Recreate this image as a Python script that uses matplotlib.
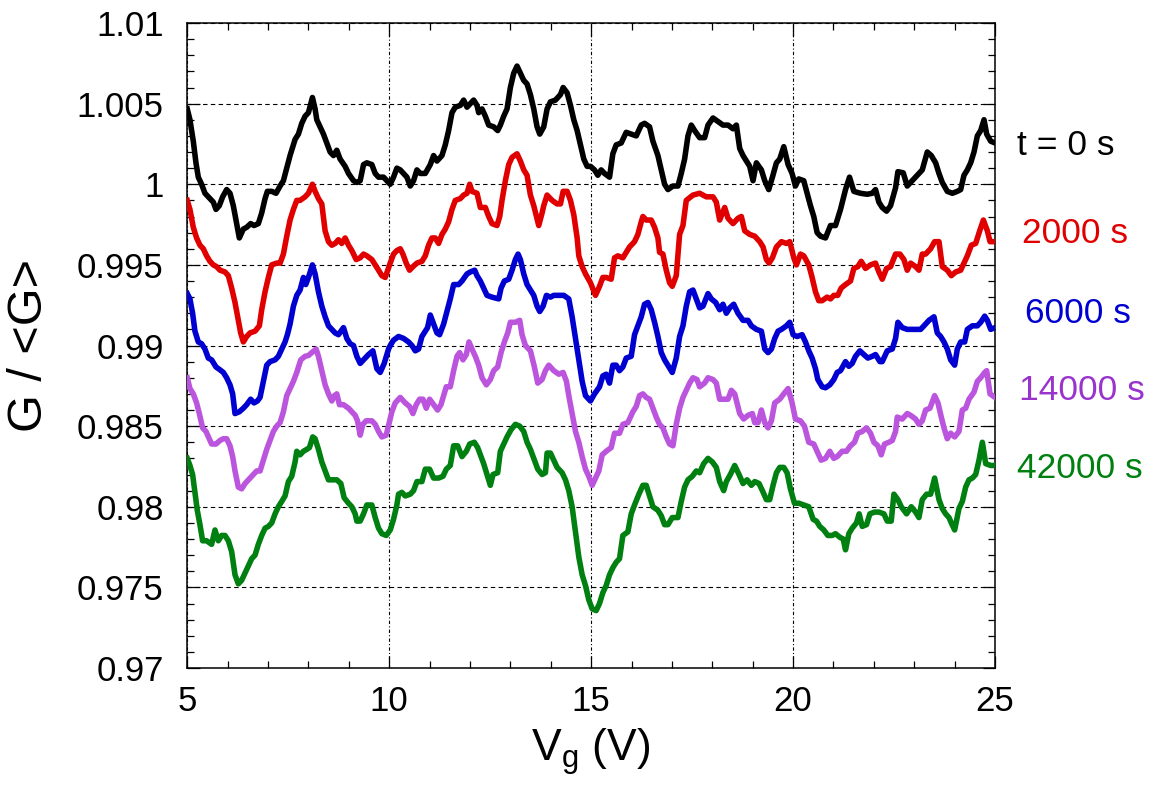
import matplotlib
matplotlib.use('Agg')
import matplotlib.pyplot as plt
from matplotlib.ticker import MultipleLocator, FuncFormatter

# (Vg, G/<G>)
black_pts = [
    (5.000, 1.00467), (5.066, 1.00400), (5.149, 1.00267), (5.215, 1.00133), (5.273, 1.00044),
    (5.355, 1.00000), (5.438, 0.99944), (5.562, 0.99911), (5.645, 0.99889), (5.711, 0.99844),
    (5.793, 0.99867), (5.876, 0.99922), (5.975, 0.99967), (6.058, 0.99944), (6.140, 0.99867),
    (6.223, 0.99756), (6.289, 0.99667), (6.388, 0.99722), (6.471, 0.99733), (6.570, 0.99756),
    (6.653, 0.99744), (6.760, 0.99756), (6.843, 0.99822), (6.926, 0.99911), (6.983, 0.99956),
    (7.091, 0.99956), (7.198, 0.99944), (7.298, 0.99989), (7.380, 1.00022), (7.463, 1.00100),
    (7.545, 1.00178), (7.669, 1.00278), (7.752, 1.00311), (7.835, 1.00378), (7.917, 1.00422),
    (8.000, 1.00444), (8.099, 1.00538), (8.165, 1.00467), (8.207, 1.00400), (8.289, 1.00356),
    (8.372, 1.00311), (8.455, 1.00256), (8.537, 1.00200), (8.620, 1.00178), (8.702, 1.00211),
    (8.785, 1.00156), (8.909, 1.00111), (8.992, 1.00067), (9.116, 1.00022), (9.198, 1.00011),
    (9.281, 1.00022), (9.364, 1.00122), (9.446, 1.00133), (9.570, 1.00122), (9.653, 1.00067),
    (9.736, 1.00044), (9.860, 1.00044), (9.983, 1.00011),
    (10.025, 1.00000), (10.107, 1.00044), (10.190, 1.00100), (10.273, 1.00089), (10.355, 1.00067),
    (10.438, 1.00044), (10.521, 0.99989), (10.603, 1.00022), (10.686, 1.00089), (10.769, 1.00067),
    (10.893, 1.00067), (11.017, 1.00122), (11.099, 1.00178), (11.182, 1.00144), (11.306, 1.00178),
    (11.388, 1.00244), (11.471, 1.00333), (11.554, 1.00444), (11.636, 1.00478), (11.760, 1.00489),
    (11.843, 1.00522), (11.926, 1.00478), (12.008, 1.00500), (12.091, 1.00522), (12.174, 1.00489),
    (12.215, 1.00444), (12.298, 1.00467), (12.380, 1.00422), (12.463, 1.00367), (12.587, 1.00356),
    (12.686, 1.00333), (12.752, 1.00367), (12.835, 1.00422), (12.917, 1.00467), (13.000, 1.00600),
    (13.083, 1.00689), (13.165, 1.00733), (13.248, 1.00689), (13.331, 1.00644), (13.413, 1.00622),
    (13.496, 1.00556), (13.579, 1.00467), (13.661, 1.00356), (13.727, 1.00311), (13.826, 1.00356),
    (13.909, 1.00467), (13.992, 1.00511), (14.116, 1.00522), (14.240, 1.00556), (14.306, 1.00600),
    (14.405, 1.00567), (14.488, 1.00489), (14.570, 1.00400), (14.653, 1.00333), (14.736, 1.00244),
    (14.818, 1.00156), (14.901, 1.00111), (14.983, 1.00111),
    (15.083, 1.00089), (15.165, 1.00056), (15.248, 1.00089), (15.331, 1.00067), (15.455, 1.00044),
    (15.537, 1.00189), (15.620, 1.00244), (15.744, 1.00256), (15.868, 1.00322), (15.992, 1.00311),
    (16.116, 1.00300), (16.240, 1.00367), (16.322, 1.00378), (16.446, 1.00356), (16.529, 1.00267),
    (16.653, 1.00178), (16.736, 1.00089), (16.818, 1.00000), (16.901, 0.99967), (17.025, 0.99989),
    (17.149, 0.99989), (17.231, 1.00067), (17.314, 1.00156), (17.397, 1.00300), (17.479, 1.00367),
    (17.562, 1.00333), (17.686, 1.00289), (17.810, 1.00289), (17.893, 1.00367), (18.017, 1.00411),
    (18.140, 1.00389), (18.264, 1.00367), (18.388, 1.00367), (18.512, 1.00344), (18.595, 1.00367),
    (18.678, 1.00222), (18.760, 1.00178), (18.843, 1.00144), (18.926, 1.00111), (19.008, 1.00022),
    (19.091, 1.00133), (19.215, 1.00089), (19.298, 1.00022), (19.397, 0.99967), (19.488, 1.00044),
    (19.587, 1.00133), (19.669, 1.00156), (19.769, 1.00233), (19.876, 1.00122),
    (19.975, 1.00067), (20.058, 0.99989), (20.140, 1.00033), (20.264, 1.00022), (20.347, 0.99944),
    (20.430, 0.99867), (20.512, 0.99800), (20.595, 0.99700), (20.678, 0.99678), (20.802, 0.99667),
    (20.926, 0.99744), (21.050, 0.99744), (21.174, 0.99844), (21.298, 0.99967), (21.397, 1.00044),
    (21.504, 0.99956), (21.669, 0.99944), (21.835, 0.99938), (21.959, 0.99944), (22.041, 0.99967),
    (22.124, 0.99889), (22.207, 0.99856), (22.314, 0.99833), (22.413, 0.99867), (22.537, 0.99978),
    (22.595, 1.00078), (22.727, 1.00071), (22.826, 0.99989), (22.950, 1.00022), (23.074, 1.00056),
    (23.198, 1.00089), (23.322, 1.00200), (23.421, 1.00178), (23.529, 1.00133), (23.612, 1.00067),
    (23.694, 1.00011), (23.818, 0.99956), (23.942, 0.99944), (24.066, 0.99956), (24.149, 0.99967),
    (24.231, 1.00056), (24.314, 1.00089), (24.397, 1.00133), (24.479, 1.00200), (24.562, 1.00300),
    (24.645, 1.00333), (24.727, 1.00400), (24.793, 1.00311), (24.893, 1.00267), (25.000, 1.00256),
]

red_pts = [
    (5.000, 0.99900), (5.066, 0.99844), (5.149, 0.99733), (5.231, 0.99667), (5.314, 0.99622),
    (5.397, 0.99600), (5.479, 0.99556), (5.562, 0.99522), (5.645, 0.99500), (5.727, 0.99489),
    (5.810, 0.99467), (5.934, 0.99456), (6.017, 0.99433), (6.099, 0.99356), (6.182, 0.99267),
    (6.264, 0.99156), (6.322, 0.99078), (6.388, 0.99022), (6.471, 0.99056), (6.554, 0.99078),
    (6.678, 0.99089), (6.785, 0.99122), (6.843, 0.99222), (6.926, 0.99333), (7.008, 0.99422),
    (7.091, 0.99500), (7.215, 0.99511), (7.298, 0.99511), (7.380, 0.99567), (7.463, 0.99678),
    (7.545, 0.99778), (7.628, 0.99844), (7.711, 0.99900), (7.793, 0.99900), (7.917, 0.99922),
    (8.000, 0.99944), (8.099, 1.00000), (8.165, 0.99956), (8.248, 0.99911), (8.331, 0.99878),
    (8.413, 0.99711), (8.496, 0.99644), (8.579, 0.99622), (8.661, 0.99633), (8.744, 0.99656),
    (8.826, 0.99633), (8.909, 0.99667), (8.992, 0.99622), (9.074, 0.99589), (9.182, 0.99533),
    (9.281, 0.99544), (9.364, 0.99567), (9.446, 0.99556), (9.570, 0.99533), (9.653, 0.99500),
    (9.736, 0.99467), (9.818, 0.99433), (9.901, 0.99422),
    (10.025, 0.99511), (10.107, 0.99567), (10.190, 0.99589), (10.273, 0.99600), (10.339, 0.99567),
    (10.421, 0.99511), (10.504, 0.99467), (10.587, 0.99489), (10.686, 0.99511), (10.810, 0.99522),
    (10.893, 0.99556), (10.975, 0.99622), (11.058, 0.99667), (11.140, 0.99667), (11.223, 0.99633),
    (11.306, 0.99689), (11.388, 0.99722), (11.471, 0.99767), (11.554, 0.99844), (11.636, 0.99900),
    (11.760, 0.99911), (11.843, 0.99933), (11.926, 0.99944), (11.992, 1.00000), (12.050, 0.99956),
    (12.174, 0.99944), (12.256, 0.99856), (12.380, 0.99856), (12.463, 0.99800), (12.545, 0.99756),
    (12.669, 0.99744), (12.736, 0.99800), (12.793, 0.99900), (12.876, 1.00022), (12.959, 1.00122),
    (13.041, 1.00167), (13.165, 1.00189), (13.248, 1.00144), (13.331, 1.00089), (13.413, 1.00056),
    (13.496, 0.99933), (13.579, 0.99867), (13.645, 0.99800), (13.702, 0.99744), (13.785, 0.99822),
    (13.826, 0.99867), (13.909, 0.99933), (14.033, 0.99900), (14.157, 0.99878), (14.240, 0.99878),
    (14.306, 0.99956), (14.405, 0.99956), (14.488, 0.99900), (14.570, 0.99811), (14.653, 0.99667),
    (14.694, 0.99556), (14.777, 0.99489), (14.860, 0.99444), (14.983, 0.99389),
    (15.107, 0.99311), (15.207, 0.99367), (15.289, 0.99422), (15.372, 0.99422), (15.496, 0.99411),
    (15.579, 0.99544), (15.661, 0.99556), (15.785, 0.99544), (15.868, 0.99578), (15.950, 0.99611),
    (16.074, 0.99644), (16.157, 0.99689), (16.240, 0.99767), (16.281, 0.99800), (16.364, 0.99778),
    (16.488, 0.99778), (16.570, 0.99733), (16.653, 0.99667), (16.694, 0.99578), (16.777, 0.99567),
    (16.860, 0.99467), (16.942, 0.99389), (17.008, 0.99367), (17.107, 0.99433), (17.190, 0.99689),
    (17.273, 0.99744), (17.355, 0.99900), (17.521, 0.99933), (17.686, 0.99944), (17.851, 0.99922),
    (18.017, 0.99922), (18.099, 0.99889), (18.182, 0.99778), (18.306, 0.99856), (18.388, 0.99789),
    (18.512, 0.99756), (18.636, 0.99789), (18.719, 0.99800), (18.802, 0.99711), (18.926, 0.99689),
    (19.050, 0.99678), (19.174, 0.99644), (19.256, 0.99611), (19.339, 0.99533), (19.405, 0.99511),
    (19.488, 0.99544), (19.587, 0.99611), (19.711, 0.99644), (19.835, 0.99633),
    (19.917, 0.99644), (20.017, 0.99544), (20.083, 0.99500), (20.182, 0.99567), (20.264, 0.99556),
    (20.388, 0.99500), (20.471, 0.99422), (20.554, 0.99333), (20.636, 0.99278), (20.719, 0.99278),
    (20.843, 0.99300), (20.926, 0.99289), (21.008, 0.99311), (21.107, 0.99311), (21.190, 0.99356),
    (21.298, 0.99378), (21.421, 0.99400), (21.504, 0.99478), (21.603, 0.99489), (21.686, 0.99522),
    (21.793, 0.99478), (21.917, 0.99500), (22.041, 0.99511), (22.124, 0.99456), (22.207, 0.99411),
    (22.314, 0.99478), (22.413, 0.99489), (22.537, 0.99567), (22.645, 0.99567), (22.744, 0.99533),
    (22.826, 0.99467), (22.909, 0.99511), (23.033, 0.99489), (23.116, 0.99467), (23.198, 0.99567),
    (23.281, 0.99567), (23.405, 0.99600), (23.504, 0.99644), (23.612, 0.99644), (23.694, 0.99489),
    (23.818, 0.99467), (23.917, 0.99433), (24.025, 0.99456), (24.149, 0.99467), (24.231, 0.99511),
    (24.314, 0.99556), (24.413, 0.99622), (24.521, 0.99633), (24.620, 0.99711), (24.711, 0.99778),
    (24.810, 0.99711), (24.876, 0.99644), (25.000, 0.99644),
]

blue_pts = [
    (5.000, 0.99322), (5.066, 0.99289), (5.132, 0.99200), (5.190, 0.99089), (5.273, 0.99022),
    (5.355, 0.99011), (5.438, 0.98978), (5.521, 0.98922), (5.603, 0.98911), (5.711, 0.98867),
    (5.810, 0.98849), (5.893, 0.98833), (5.975, 0.98800), (6.058, 0.98756), (6.124, 0.98700),
    (6.182, 0.98578), (6.289, 0.98589), (6.388, 0.98611), (6.471, 0.98633), (6.570, 0.98667),
    (6.653, 0.98644), (6.736, 0.98656), (6.802, 0.98678), (6.884, 0.98778), (6.967, 0.98878),
    (7.050, 0.98900), (7.174, 0.98911), (7.256, 0.98933), (7.339, 0.98978), (7.421, 0.99022),
    (7.479, 0.99067), (7.545, 0.99133), (7.628, 0.99244), (7.711, 0.99311), (7.793, 0.99344),
    (7.876, 0.99422), (7.934, 0.99378), (8.000, 0.99422), (8.099, 0.99500), (8.165, 0.99444),
    (8.248, 0.99333), (8.331, 0.99244), (8.413, 0.99178), (8.496, 0.99122), (8.579, 0.99100),
    (8.661, 0.99078), (8.744, 0.99067), (8.868, 0.99111), (8.950, 0.99044), (9.033, 0.99011),
    (9.116, 0.99000), (9.198, 0.98933), (9.281, 0.98889), (9.364, 0.98911), (9.488, 0.98944),
    (9.595, 0.98967), (9.694, 0.98856), (9.777, 0.98833), (9.876, 0.98889), (9.983, 0.98978),
    (10.025, 0.99000), (10.107, 0.99033), (10.231, 0.99056), (10.355, 0.99044), (10.479, 0.99022),
    (10.562, 0.99000), (10.645, 0.98967), (10.727, 0.98978), (10.810, 0.99056), (10.893, 0.99089),
    (10.950, 0.99111), (11.017, 0.99189), (11.099, 0.99133), (11.182, 0.99078), (11.248, 0.99067),
    (11.347, 0.99133), (11.430, 0.99211), (11.512, 0.99289), (11.595, 0.99378), (11.719, 0.99378),
    (11.802, 0.99400), (11.926, 0.99444), (12.008, 0.99456), (12.116, 0.99467), (12.174, 0.99433),
    (12.256, 0.99400), (12.339, 0.99356), (12.421, 0.99311), (12.545, 0.99300), (12.711, 0.99289),
    (12.769, 0.99356), (12.851, 0.99400), (12.959, 0.99411), (13.041, 0.99467), (13.124, 0.99533),
    (13.190, 0.99567), (13.248, 0.99533), (13.331, 0.99444), (13.413, 0.99378), (13.496, 0.99344),
    (13.579, 0.99311), (13.661, 0.99244), (13.727, 0.99211), (13.810, 0.99244), (13.893, 0.99311),
    (13.992, 0.99300), (14.074, 0.99311), (14.198, 0.99311), (14.322, 0.99311), (14.446, 0.99289),
    (14.529, 0.99178), (14.612, 0.99044), (14.694, 0.98911), (14.777, 0.98778), (14.860, 0.98689),
    (14.983, 0.98656),
    (15.083, 0.98700), (15.207, 0.98744), (15.289, 0.98811), (15.372, 0.98822), (15.455, 0.98767),
    (15.537, 0.98878), (15.620, 0.98878), (15.702, 0.98844), (15.785, 0.98867), (15.868, 0.98922),
    (15.992, 0.98933), (16.074, 0.99067), (16.157, 0.99122), (16.240, 0.99178), (16.322, 0.99256),
    (16.405, 0.99267), (16.488, 0.99222), (16.570, 0.99144), (16.653, 0.99056), (16.736, 0.98956),
    (16.818, 0.98911), (16.926, 0.98867), (17.008, 0.98833), (17.107, 0.98922), (17.190, 0.99056),
    (17.273, 0.99122), (17.355, 0.99244), (17.438, 0.99333), (17.521, 0.99344), (17.603, 0.99289),
    (17.686, 0.99233), (17.769, 0.99244), (17.893, 0.99322), (17.975, 0.99289), (18.083, 0.99267),
    (18.182, 0.99222), (18.264, 0.99256), (18.347, 0.99200), (18.430, 0.99233), (18.529, 0.99256),
    (18.636, 0.99200), (18.760, 0.99156), (18.884, 0.99156), (18.967, 0.99122), (19.091, 0.99100),
    (19.215, 0.99089), (19.298, 0.98978), (19.380, 0.98956), (19.463, 0.98978), (19.545, 0.99044),
    (19.628, 0.99089), (19.711, 0.99100), (19.835, 0.99122),
    (19.917, 0.99144), (20.000, 0.99067), (20.099, 0.99056), (20.223, 0.99067), (20.306, 0.99022),
    (20.388, 0.98967), (20.471, 0.98922), (20.554, 0.98856), (20.612, 0.98789), (20.719, 0.98744),
    (20.802, 0.98738), (20.909, 0.98756), (21.008, 0.98789), (21.091, 0.98833), (21.174, 0.98844),
    (21.298, 0.98900), (21.380, 0.98871), (21.463, 0.98889), (21.545, 0.98933), (21.653, 0.98967),
    (21.752, 0.98944), (21.851, 0.98922), (21.959, 0.98933), (22.041, 0.98944), (22.149, 0.98900),
    (22.207, 0.98900), (22.331, 0.98967), (22.455, 0.98978), (22.537, 0.99044), (22.595, 0.99144),
    (22.702, 0.99111), (22.826, 0.99100), (22.950, 0.99100), (23.074, 0.99100), (23.157, 0.99100),
    (23.240, 0.99122), (23.364, 0.99156), (23.488, 0.99178), (23.570, 0.99078), (23.653, 0.99056),
    (23.736, 0.99022), (23.818, 0.98978), (23.901, 0.98911), (24.000, 0.98878), (24.066, 0.98978),
    (24.149, 0.99022), (24.248, 0.99022), (24.314, 0.99100), (24.438, 0.99122), (24.562, 0.99122),
    (24.645, 0.99144), (24.744, 0.99182), (24.810, 0.99156), (24.893, 0.99100), (25.000, 0.99111),
]

purple_pts = [
    (5.000, 0.98800), (5.066, 0.98733), (5.149, 0.98700), (5.231, 0.98644), (5.298, 0.98578),
    (5.380, 0.98489), (5.463, 0.98467), (5.545, 0.98422), (5.603, 0.98389), (5.711, 0.98389),
    (5.810, 0.98411), (5.893, 0.98422), (5.975, 0.98422), (6.058, 0.98378), (6.124, 0.98311),
    (6.182, 0.98222), (6.264, 0.98122), (6.347, 0.98111), (6.430, 0.98144), (6.554, 0.98178),
    (6.636, 0.98200), (6.719, 0.98222), (6.802, 0.98222), (6.884, 0.98289), (6.967, 0.98356),
    (7.050, 0.98411), (7.132, 0.98467), (7.215, 0.98500), (7.298, 0.98522), (7.380, 0.98589),
    (7.463, 0.98689), (7.545, 0.98733), (7.628, 0.98778), (7.711, 0.98833), (7.810, 0.98911),
    (7.917, 0.98933), (8.000, 0.98938), (8.083, 0.98956), (8.190, 0.98978), (8.248, 0.98933),
    (8.331, 0.98844), (8.413, 0.98756), (8.496, 0.98700), (8.579, 0.98656), (8.645, 0.98689),
    (8.702, 0.98700), (8.769, 0.98633), (8.868, 0.98633), (8.992, 0.98611), (9.074, 0.98589),
    (9.157, 0.98567), (9.215, 0.98533), (9.281, 0.98444), (9.347, 0.98511), (9.430, 0.98533),
    (9.570, 0.98533), (9.653, 0.98511), (9.736, 0.98467), (9.818, 0.98433), (9.926, 0.98444),
    (10.066, 0.98589), (10.149, 0.98644), (10.273, 0.98678), (10.397, 0.98644), (10.504, 0.98622),
    (10.587, 0.98578), (10.669, 0.98633), (10.752, 0.98667), (10.835, 0.98667), (10.917, 0.98611),
    (11.000, 0.98667), (11.099, 0.98633), (11.198, 0.98600), (11.281, 0.98633), (11.347, 0.98689),
    (11.413, 0.98744), (11.512, 0.98744), (11.595, 0.98844), (11.678, 0.98933), (11.744, 0.98956),
    (11.826, 0.98911), (11.909, 0.98944), (11.975, 0.99022), (12.050, 0.98978), (12.132, 0.98933),
    (12.215, 0.98878), (12.298, 0.98800), (12.405, 0.98756), (12.504, 0.98789), (12.587, 0.98844),
    (12.686, 0.98867), (12.769, 0.98956), (12.851, 0.99022), (12.934, 0.99078), (13.000, 0.99144),
    (13.124, 0.99144), (13.231, 0.99156), (13.289, 0.99067), (13.372, 0.99000), (13.496, 0.98967),
    (13.595, 0.98867), (13.678, 0.98767), (13.785, 0.98789), (13.868, 0.98844), (13.950, 0.98878),
    (14.074, 0.98844), (14.198, 0.98822), (14.306, 0.98833), (14.388, 0.98778), (14.446, 0.98689),
    (14.529, 0.98578), (14.612, 0.98467), (14.694, 0.98400), (14.777, 0.98311), (14.860, 0.98233),
    (14.942, 0.98189),
    (15.025, 0.98133), (15.107, 0.98178), (15.190, 0.98222), (15.273, 0.98322), (15.372, 0.98344),
    (15.496, 0.98367), (15.579, 0.98456), (15.702, 0.98456), (15.785, 0.98511), (15.909, 0.98522),
    (16.033, 0.98589), (16.116, 0.98622), (16.198, 0.98689), (16.281, 0.98700), (16.364, 0.98678),
    (16.446, 0.98667), (16.529, 0.98611), (16.612, 0.98556), (16.694, 0.98511), (16.777, 0.98489),
    (16.860, 0.98433), (16.942, 0.98389), (17.025, 0.98378), (17.107, 0.98511), (17.190, 0.98611),
    (17.273, 0.98678), (17.355, 0.98722), (17.438, 0.98767), (17.521, 0.98800), (17.620, 0.98789),
    (17.686, 0.98744), (17.810, 0.98767), (17.893, 0.98800), (18.017, 0.98789), (18.099, 0.98767),
    (18.182, 0.98667), (18.306, 0.98667), (18.388, 0.98667), (18.471, 0.98722), (18.554, 0.98700),
    (18.612, 0.98644), (18.678, 0.98578), (18.777, 0.98544), (18.884, 0.98567), (18.992, 0.98578),
    (19.050, 0.98522), (19.132, 0.98522), (19.215, 0.98600), (19.298, 0.98522), (19.380, 0.98489),
    (19.463, 0.98533), (19.545, 0.98644), (19.669, 0.98667), (19.769, 0.98700), (19.876, 0.98733),
    (19.975, 0.98644), (20.058, 0.98544), (20.182, 0.98533), (20.281, 0.98500), (20.388, 0.98400),
    (20.512, 0.98389), (20.595, 0.98344), (20.694, 0.98289), (20.802, 0.98300), (20.909, 0.98344),
    (21.008, 0.98300), (21.091, 0.98311), (21.215, 0.98344), (21.322, 0.98344), (21.421, 0.98378),
    (21.521, 0.98400), (21.603, 0.98456), (21.711, 0.98467), (21.818, 0.98489), (21.917, 0.98456),
    (22.000, 0.98400), (22.099, 0.98378), (22.182, 0.98322), (22.264, 0.98389), (22.372, 0.98400),
    (22.455, 0.98411), (22.537, 0.98467), (22.579, 0.98556), (22.702, 0.98544), (22.826, 0.98578),
    (22.909, 0.98567), (23.033, 0.98544), (23.116, 0.98511), (23.198, 0.98533), (23.281, 0.98600),
    (23.388, 0.98611), (23.504, 0.98689), (23.587, 0.98644), (23.669, 0.98556), (23.736, 0.98489),
    (23.818, 0.98422), (23.901, 0.98456), (24.000, 0.98433), (24.107, 0.98467), (24.190, 0.98600),
    (24.273, 0.98611), (24.355, 0.98667), (24.479, 0.98711), (24.562, 0.98778), (24.645, 0.98800),
    (24.744, 0.98833), (24.793, 0.98844), (24.876, 0.98700), (25.000, 0.98678),
]

green_pts = [
    (5.000, 0.98300), (5.066, 0.98256), (5.132, 0.98200), (5.190, 0.98089), (5.248, 0.97978),
    (5.314, 0.97889), (5.380, 0.97789), (5.479, 0.97789), (5.603, 0.97767), (5.686, 0.97856),
    (5.769, 0.97789), (5.851, 0.97822), (5.934, 0.97822), (6.017, 0.97789), (6.099, 0.97722),
    (6.182, 0.97578), (6.264, 0.97522), (6.347, 0.97544), (6.430, 0.97589), (6.512, 0.97633),
    (6.595, 0.97678), (6.678, 0.97700), (6.760, 0.97767), (6.843, 0.97822), (6.926, 0.97867),
    (7.008, 0.97878), (7.091, 0.97900), (7.174, 0.97956), (7.256, 0.98000), (7.339, 0.98033),
    (7.421, 0.98067), (7.504, 0.98156), (7.587, 0.98189), (7.669, 0.98278), (7.711, 0.98344),
    (7.793, 0.98322), (7.876, 0.98344), (7.959, 0.98356), (8.025, 0.98367), (8.107, 0.98433),
    (8.165, 0.98422), (8.248, 0.98356), (8.331, 0.98278), (8.413, 0.98222), (8.496, 0.98167),
    (8.603, 0.98167), (8.702, 0.98167), (8.802, 0.98144), (8.884, 0.98056), (8.992, 0.98022),
    (9.074, 0.98000), (9.157, 0.97956), (9.198, 0.97911), (9.281, 0.97911), (9.364, 0.97956),
    (9.446, 0.98011), (9.570, 0.98011), (9.653, 0.97933), (9.736, 0.97867), (9.818, 0.97833),
    (9.926, 0.97822),
    (10.025, 0.97856), (10.107, 0.97922), (10.190, 0.98011), (10.231, 0.98078), (10.314, 0.98089),
    (10.397, 0.98067), (10.521, 0.98078), (10.603, 0.98100), (10.686, 0.98156), (10.810, 0.98156),
    (10.893, 0.98233), (11.000, 0.98233), (11.099, 0.98178), (11.223, 0.98178), (11.331, 0.98189),
    (11.413, 0.98233), (11.512, 0.98256), (11.595, 0.98378), (11.694, 0.98378), (11.802, 0.98311),
    (11.909, 0.98344), (11.992, 0.98389), (12.107, 0.98400), (12.190, 0.98367), (12.256, 0.98322),
    (12.339, 0.98267), (12.421, 0.98200), (12.504, 0.98133), (12.570, 0.98200), (12.686, 0.98211),
    (12.752, 0.98344), (12.835, 0.98389), (12.917, 0.98433), (13.017, 0.98478), (13.124, 0.98511),
    (13.231, 0.98500), (13.331, 0.98467), (13.413, 0.98400), (13.496, 0.98356), (13.595, 0.98289),
    (13.678, 0.98233), (13.785, 0.98200), (13.868, 0.98211), (13.909, 0.98333), (13.992, 0.98333),
    (14.074, 0.98289), (14.157, 0.98244), (14.281, 0.98211), (14.364, 0.98167), (14.446, 0.98100),
    (14.529, 0.98000), (14.612, 0.97844), (14.694, 0.97689), (14.777, 0.97578), (14.860, 0.97511),
    (14.942, 0.97422),
    (15.025, 0.97367), (15.124, 0.97356), (15.207, 0.97400), (15.289, 0.97467), (15.372, 0.97511),
    (15.455, 0.97578), (15.537, 0.97622), (15.620, 0.97656), (15.702, 0.97678), (15.785, 0.97822),
    (15.909, 0.97844), (15.992, 0.97956), (16.074, 0.98011), (16.182, 0.98078), (16.281, 0.98133),
    (16.364, 0.98133), (16.446, 0.98067), (16.529, 0.98000), (16.653, 0.97978), (16.736, 0.97944),
    (16.818, 0.97889), (16.901, 0.97889), (17.008, 0.97933), (17.149, 0.97933), (17.231, 0.98033),
    (17.314, 0.98122), (17.397, 0.98167), (17.504, 0.98189), (17.603, 0.98222), (17.686, 0.98211),
    (17.785, 0.98267), (17.893, 0.98300), (18.000, 0.98278), (18.099, 0.98244), (18.182, 0.98156),
    (18.281, 0.98100), (18.347, 0.98156), (18.446, 0.98200), (18.554, 0.98256), (18.661, 0.98200),
    (18.760, 0.98144), (18.860, 0.98167), (18.967, 0.98133), (19.050, 0.98156), (19.157, 0.98144),
    (19.240, 0.98100), (19.339, 0.98044), (19.421, 0.98044), (19.504, 0.98133), (19.587, 0.98211),
    (19.669, 0.98244), (19.769, 0.98244), (19.851, 0.98211),
    (19.934, 0.98111), (20.033, 0.98022), (20.140, 0.98022), (20.264, 0.98011), (20.388, 0.98000),
    (20.496, 0.97922), (20.579, 0.97911), (20.661, 0.97878), (20.760, 0.97856), (20.860, 0.97822),
    (20.967, 0.97822), (21.050, 0.97833), (21.157, 0.97811), (21.240, 0.97800), (21.298, 0.97733),
    (21.380, 0.97833), (21.463, 0.97867), (21.570, 0.97900), (21.636, 0.97956), (21.711, 0.97878),
    (21.818, 0.97889), (21.901, 0.97956), (22.017, 0.97967), (22.124, 0.97967), (22.248, 0.97956),
    (22.331, 0.97911), (22.430, 0.97911), (22.496, 0.98078), (22.595, 0.98044), (22.678, 0.98000),
    (22.810, 0.97956), (22.926, 0.98000), (23.033, 0.97967), (23.116, 0.97933), (23.198, 0.98044),
    (23.306, 0.98078), (23.405, 0.98078), (23.504, 0.98178), (23.612, 0.98044), (23.694, 0.97989),
    (23.777, 0.97956), (23.860, 0.97933), (23.917, 0.97900), (24.000, 0.97856), (24.107, 0.97989),
    (24.190, 0.98033), (24.273, 0.98122), (24.355, 0.98167), (24.438, 0.98178), (24.521, 0.98200),
    (24.603, 0.98289), (24.686, 0.98400), (24.769, 0.98267), (24.893, 0.98256), (25.000, 0.98256),
]

labels = ['t = 0 s', '2000 s', '6000 s', '14000 s', '42000 s']
line_colors = ['black', '#e00000', '#0000d0', '#bb55dd', '#008010']
text_colors = ['black', '#e00000', '#0000d0', '#9933cc', '#008010']

plt.rcParams['font.family'] = ['Liberation Sans', 'DejaVu Sans']
plt.rcParams['mathtext.fontset'] = 'custom'
plt.rcParams['mathtext.rm'] = 'Liberation Sans'
plt.rcParams['mathtext.it'] = 'Liberation Sans:italic'

fig = plt.figure(figsize=(11.51, 7.96), dpi=100)
ax = fig.add_axes([0.1627, 0.1608, 0.7018, 0.8103])

all_pts = [black_pts, red_pts, blue_pts, purple_pts, green_pts]
for pts, c in zip(all_pts, line_colors):
    v, g = zip(*pts)
    ax.plot(v, g, color=c, lw=4.0, zorder=3)

ax.set_xlim(5, 25)
ax.set_ylim(0.97, 1.01)

ax.xaxis.set_major_locator(MultipleLocator(5))
ax.xaxis.set_minor_locator(MultipleLocator(1))
ax.yaxis.set_major_locator(MultipleLocator(0.005))
ax.yaxis.set_minor_locator(MultipleLocator(0.001))
ax.yaxis.set_major_formatter(FuncFormatter(lambda val, pos: f'{val:.3f}'.rstrip('0').rstrip('.')))

ax.tick_params(which='both', direction='in', top=True, right=True, width=0.9, labelsize=25)
ax.tick_params(which='major', length=9)
ax.tick_params(which='minor', length=5)
ax.tick_params(axis='y', pad=17)
ax.tick_params(axis='x', pad=12)

ax.yaxis.grid(True, which='major', ls=(0, (4, 3)), color='black', lw=0.8)
ax.xaxis.grid(True, which='major', ls=(0, (3, 2, 1, 2)), color='black', lw=0.8)

for s in ax.spines.values():
    s.set_linewidth(1.1)

ax.set_xlabel(r'$\mathregular{V_g}$ (V)', fontsize=32, labelpad=6)
ax.set_ylabel('G / <G>', fontsize=35, labelpad=18)

# curve labels to the right of the plot
label_x = [25.54, 25.66, 25.73, 25.59, 25.54]
label_y = [1.00243, 0.99697, 0.99201, 0.98723, 0.98240]
for txt, c, lx, ly in zip(labels, text_colors, label_x, label_y):
    ax.text(lx, ly, txt, color=c, fontsize=25.5, ha='left', va='center', clip_on=False)

fig.savefig('out.png', dpi=100)
